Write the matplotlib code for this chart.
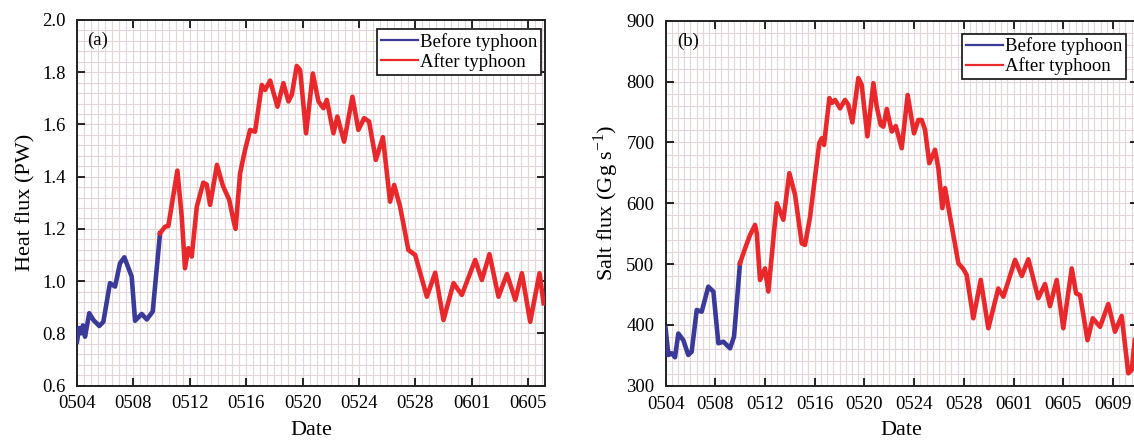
import matplotlib
matplotlib.use("Agg")
import matplotlib.pyplot as plt
from matplotlib.ticker import MultipleLocator, FixedLocator, FormatStrFormatter
from matplotlib.lines import Line2D

plt.rcParams['font.family'] = ['Liberation Serif', 'DejaVu Serif']
plt.rcParams['mathtext.fontset'] = 'custom'
plt.rcParams['mathtext.rm'] = 'Liberation Serif'

# Days counted from 0504
tick_days_a = [0, 4, 8, 12, 16, 20, 24, 28, 32]
tick_labels_a = ['0504', '0508', '0512', '0516', '0520', '0524', '0528', '0601', '0605']
tick_days_b = [0, 4, 8, 12, 16, 20, 24, 28, 32, 36]
tick_labels_b = ['0504', '0508', '0512', '0516', '0520', '0524', '0528', '0601', '0605', '0609']

# Heat flux (PW)
heat_days_before = [0.0, 0.15, 0.3, 0.42, 0.57, 0.87, 1.16, 1.58, 1.87, 2.34, 2.70,
                    3.05, 3.36, 3.88, 4.12, 4.59, 4.95, 5.37, 5.89]
heat_before = [0.768, 0.82, 0.80, 0.83, 0.787, 0.877, 0.851, 0.828, 0.844, 0.992, 0.979,
               1.068, 1.091, 1.017, 0.848, 0.874, 0.853, 0.883, 1.183]
heat_days_after = [5.89, 6.24, 6.48, 7.12, 7.43, 7.66, 7.90, 8.14, 8.50, 8.96, 9.20, 9.44,
                   9.93, 10.35, 10.80, 11.15, 11.25, 11.57, 11.92, 12.28, 12.63, 13.11,
                   13.34, 13.70, 14.22, 14.64, 15.00, 15.24, 15.59, 15.83, 16.25, 16.73,
                   17.13, 17.48, 17.72, 18.19, 18.47, 18.95, 19.54, 19.96, 20.37, 20.72,
                   21.20, 21.70, 22.21, 22.50, 22.92, 23.51, 23.99, 24.82, 25.41, 26.00,
                   26.71, 27.30, 28.25, 28.72, 29.26, 29.90, 30.50, 31.09, 31.56, 32.15,
                   32.81, 33.10]
heat_after = [1.183, 1.208, 1.211, 1.423, 1.247, 1.049, 1.126, 1.094, 1.285, 1.377, 1.37, 1.292,
              1.445, 1.365, 1.311, 1.22, 1.20, 1.413, 1.502, 1.579, 1.572, 1.751,
              1.732, 1.768, 1.668, 1.758, 1.688, 1.714, 1.824, 1.808, 1.566, 1.795,
              1.688, 1.662, 1.694, 1.566, 1.63, 1.534, 1.706, 1.579, 1.624, 1.611,
              1.464, 1.551, 1.304, 1.368, 1.285, 1.119, 1.10, 0.94, 1.032, 0.851,
              0.992, 0.947, 1.081, 1.004, 1.103, 0.94, 1.027, 0.928, 1.03, 0.844,
              1.03, 0.915]

# Salt flux (Gg s^-1)
salt_days_before = [0.0, 0.23, 0.5, 0.76, 1.03, 1.43, 1.83, 2.1, 2.51, 2.91, 3.44, 3.85,
                    4.25, 4.65, 5.19, 5.51, 5.99]
salt_before = [395, 350.7, 353.5, 346.9, 386, 375, 350.7, 356, 424.7, 421.9, 463, 454.8,
               369.9, 372.5, 361.7, 380.8, 501.5]
salt_days_after = [5.99, 6.4, 6.8, 7.2, 7.34, 7.6, 8.0, 8.27, 8.95, 9.48, 9.96, 10.42,
                   10.96, 11.22, 11.63, 12.03, 12.37, 12.57, 12.75, 13.18, 13.37, 13.64,
                   14.04, 14.44, 14.70, 15.03, 15.51, 15.78, 16.24, 16.72, 16.99, 17.31,
                   17.52, 17.80, 18.20, 18.52, 19.00, 19.48, 19.99, 20.34, 20.61, 20.88,
                   21.22, 21.68, 21.95, 22.27, 22.49, 22.89, 23.56, 23.96, 24.23, 24.76,
                   25.36, 25.97, 26.77, 27.18, 28.12, 28.66, 29.19, 29.99, 30.53, 30.93,
                   31.47, 32.0, 32.68, 33.03, 33.35, 33.95, 34.37, 34.96, 35.62, 36.16,
                   36.7, 37.23, 37.5, 37.75]
salt_after = [501.5, 526, 548, 564.5, 550.8, 474, 493, 455, 600, 573, 649.5, 614,
              534, 531.6, 578, 644, 699, 707, 696, 773, 765, 770,
              756, 770, 762, 733, 806, 795, 710, 797.5, 759, 729,
              726, 755, 718, 727, 690.6, 778, 715, 737, 737, 720.7,
              666, 688, 657.7, 592, 625, 578, 501.5, 492, 482, 411,
              474, 394.6, 460, 446.5, 507, 480.6, 508, 444, 467.4, 431,
              474, 394.6, 493, 452, 449, 375, 411, 397, 434.5, 389,
              414.8, 320.6, 326, 375]

BLUE = '#3b3a98'
RED = '#e8282b'
GRID = '#e2d6d7'

fig = plt.figure(figsize=(11.34, 4.42), dpi=100)
ax_a = fig.add_axes([0.0679, 0.1278, 0.4127, 0.8270])
ax_b = fig.add_axes([0.5869, 0.1271, 0.4165, 0.8258])


def style_axes(ax, xmax, ylim, ymajor, yminor, xticks, xlabels):
    ax.set_xlim(0, xmax)
    ax.set_ylim(*ylim)
    ax.xaxis.set_major_locator(FixedLocator(xticks))
    ax.set_xticklabels(xlabels)
    ax.xaxis.set_minor_locator(MultipleLocator(0.5))
    ax.yaxis.set_major_locator(MultipleLocator(ymajor))
    ax.yaxis.set_minor_locator(MultipleLocator(yminor))
    ax.grid(which='both', color=GRID, linewidth=0.8)
    ax.set_axisbelow(True)
    ax.tick_params(which='major', direction='in', length=6, width=1.2,
                   top=True, right=True, labelsize=13.5)
    ax.tick_params(axis='x', which='major', pad=7)
    ax.tick_params(axis='y', which='major', pad=8)
    ax.tick_params(which='minor', length=0)
    for sp in ax.spines.values():
        sp.set_linewidth(1.4)
        sp.set_color('#222222')
    ax.set_xlabel('Date', fontsize=16, labelpad=6)


lw = 3.3
ax_a.plot(heat_days_before, heat_before, color=BLUE, lw=lw, solid_joinstyle='round', zorder=3)
ax_a.plot(heat_days_after, heat_after, color=RED, lw=lw, solid_joinstyle='round', zorder=3)
style_axes(ax_a, 33.2, (0.6, 2.0), 0.2, 0.04, tick_days_a, tick_labels_a)
ax_a.yaxis.set_major_formatter(FormatStrFormatter('%.1f'))
ax_a.set_ylabel('Heat flux (PW)', fontsize=16, labelpad=5)
ax_a.text(0.022, 0.945, '(a)', transform=ax_a.transAxes, fontsize=13.5, va='center', ha='left')

ax_b.plot(salt_days_before, salt_before, color=BLUE, lw=lw, solid_joinstyle='round', zorder=3)
ax_b.plot(salt_days_after, salt_after, color=RED, lw=lw, solid_joinstyle='round', zorder=3)
style_axes(ax_b, 38.0, (300, 900), 100, 20, tick_days_b, tick_labels_b)
ax_b.set_ylabel(r'Salt flux (Gg s$^{\mathregular{-1}}$)', fontsize=16, labelpad=4)
ax_b.text(0.025, 0.945, '(b)', transform=ax_b.transAxes, fontsize=13.5, va='center', ha='left')

handles = [Line2D([], [], color=BLUE, lw=1.6), Line2D([], [], color=RED, lw=1.6)]
labels = ['Before typhoon', 'After typhoon']
for ax, anchor in ((ax_a, (0.9915, 0.975)), (ax_b, (0.975, 0.965))):
    leg = ax.legend(handles, labels, loc='upper right', bbox_to_anchor=anchor,
                    fontsize=13.5, frameon=True, fancybox=False, framealpha=1,
                    edgecolor='#222222', borderpad=0.2, handlelength=2.0,
                    handletextpad=0.1, labelspacing=0.12, borderaxespad=0.0)
    leg.get_frame().set_linewidth(1.3)

fig.savefig('out.png', dpi=100)
